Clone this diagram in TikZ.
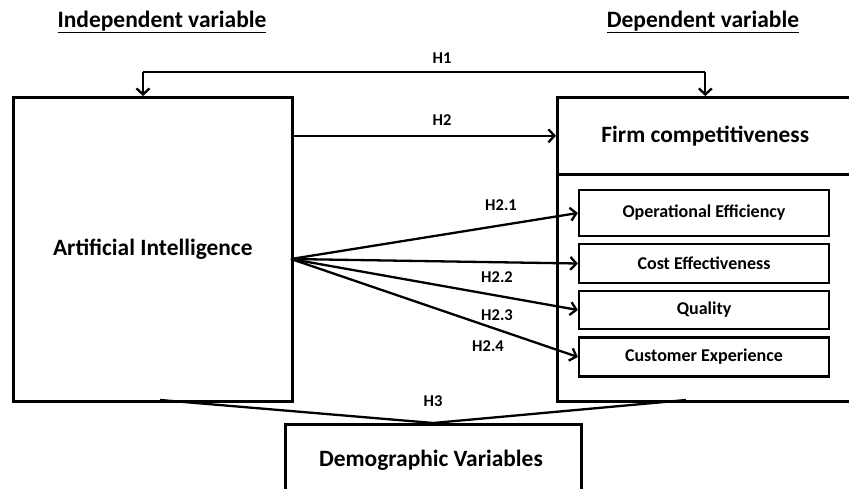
\documentclass[tikz,border=0pt]{standalone}
\usepackage{fontspec}
\setmainfont{Carlito}
\usetikzlibrary{arrows.meta}

\tikzset{
  box/.style={draw, line width=2.6pt, rectangle, inner sep=0pt, font=\bfseries\fontsize{23.4}{26}\selectfont},
  subbox/.style={draw, line width=2.2pt, rectangle, inner sep=0pt, minimum width=250pt, font=\bfseries\fontsize{18}{20}\selectfont},
  hyp/.style={font=\bfseries\fontsize{16.5}{18}\selectfont},
  head/.style={font=\bfseries\fontsize{23.5}{26}\selectfont},
  arr/.style={line width=2.3pt, -{Straight Barb[length=6pt,width=13pt,line width=2.3pt]}},
  link/.style={line width=2.3pt}
}

\begin{document}
\begin{tikzpicture}[x=1pt,y=-1pt]
    \useasboundingbox (0,0) rectangle (849,489);

    % Headings
    \node[head] (indep) at (162,22) {\underline{Independent variable}};
    \node[head] (dep) at (703,22) {\underline{Dependent variable}};

    % Artificial Intelligence
    \node[box, anchor=north west, minimum width=279pt, minimum height=304pt] (ai) at (12,96) {Artificial Intelligence};

    % Firm competitiveness and its dimensions
    \node[box, anchor=north west, minimum width=296pt, minimum height=77pt] (fc) at (556,96) {Firm competitiveness};
    \node[box, anchor=north west, minimum width=296pt, minimum height=227pt] (dims) at (556,173) {};
    \node[subbox, minimum height=46pt] (opeff) at (704,213) {Operational Efficiency};
    \node[subbox, minimum height=39pt] (cost) at (704,263.5) {Cost Effectiveness};
    \node[subbox, minimum height=38pt] (qual) at (704,310) {Quality};
    \node[subbox, minimum height=39pt] (cx) at (704,357) {Customer Experience};

    % Demographic Variables
    \node[box, anchor=north west, minimum width=296pt, minimum height=72pt] (demo) at (284,423) {};
    \node[box, draw=none] (demotxt) at (431,460) {Demographic Variables};

    % H1
    \coordinate (h1l) at (143,72);
    \draw[link] (h1l) -- (h1l -| fc.north);
    \draw[arr] (h1l) -- (h1l |- ai.north);
    \draw[arr] (h1l -| fc.north) -- (fc.north);
    \node[hyp] (h1) at (442,58) {H1};

    % H2
    \draw[arr] (ai.east |- fc.west) -- (fc.west);
    \node[hyp] (h2) at (442,120) {H2};

    % H2.1 - H2.4
    \coordinate (fan) at (291,259);
    \draw[arr] (fan) -- (opeff.west);
    \draw[arr] (fan) -- (cost.west);
    \draw[arr] (fan) -- (qual.west);
    \draw[arr] (fan) -- (cx.west);
    \node[hyp] (h21) at (501,205) {H2.1};
    \node[hyp] (h22) at (497,277) {H2.2};
    \node[hyp] (h23) at (497,315) {H2.3};
    \node[hyp] (h24) at (488,346) {H2.4};

    % H3
    \draw[link] (160,400) -- (demo.north) -- (686,400);
    \node[hyp] (h3) at (433,401) {H3};
\end{tikzpicture}
\end{document}
